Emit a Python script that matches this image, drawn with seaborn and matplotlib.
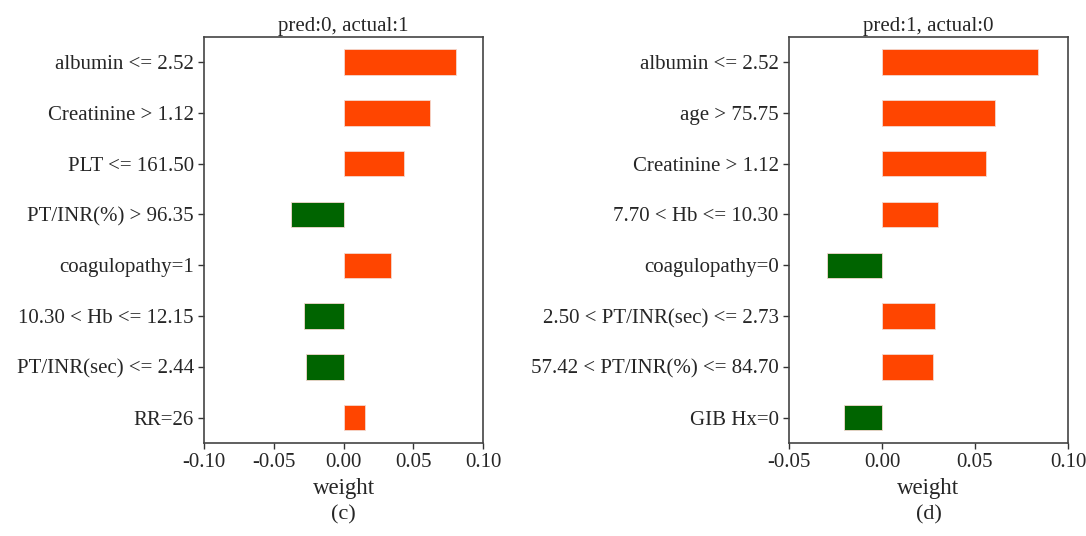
import matplotlib
matplotlib.use("Agg")
import matplotlib.pyplot as plt
import seaborn as sns
import pandas as pd

features_c = ["albumin <= 2.52", "Creatinine > 1.12", "PLT <= 161.50", "PT/INR(%) > 96.35",
              "coagulopathy=1", "10.30 < Hb <= 12.15", "PT/INR(sec) <= 2.44", "RR=26"]
weights_c = [0.0804, 0.0622, 0.0431, -0.0376, 0.0337, -0.0282, -0.0273, 0.0153]

features_d = ["albumin <= 2.52", "age > 75.75", "Creatinine > 1.12", "7.70 < Hb <= 10.30",
              "coagulopathy=0", "2.50 < PT/INR(sec) <= 2.73", "57.42 < PT/INR(%) <= 84.70", "GIB Hx=0"]
weights_d = [0.0838, 0.0605, 0.0559, 0.0302, -0.0295, 0.0286, 0.0272, -0.0203]

title_c = "pred:0, actual:1"
title_d = "pred:1, actual:0"
xticks_c = [-0.10, -0.05, 0.00, 0.05, 0.10]
xticks_d = [-0.05, 0.00, 0.05, 0.10]

POS = "#FF4500"
NEG = "#006400"

sns.set_style("ticks")
plt.rcParams['font.family'] = ['Liberation Serif', 'DejaVu Serif']
plt.rcParams['axes.unicode_minus'] = False

fig = plt.figure(figsize=(10.86, 5.36), dpi=100)
ax_c = fig.add_axes([0.188, 0.1735, 0.2567, 0.758])
ax_d = fig.add_axes([0.7265, 0.1735, 0.2569, 0.758])


def panel(ax, feats, weights, title, xticks, letter):
    df = pd.DataFrame({"feature": feats, "weight": weights})
    df["sign"] = ["pos" if w > 0 else "neg" for w in weights]
    sns.barplot(data=df, y="feature", x="weight", hue="sign",
                palette={"pos": POS, "neg": NEG}, width=0.5, orient="h",
                dodge=False, legend=False, ax=ax, saturation=1,
                edgecolor="#f4d8cf", linewidth=0.6)
    ax.set_xlim(xticks[0], xticks[-1])
    ax.set_xticks(xticks)
    ax.set_xticklabels([f"{t:.2f}" for t in xticks])
    ax.set_ylim(len(feats) - 0.5, -0.5)
    ax.set_title(title, fontsize=15, pad=4)
    ax.set_ylabel("")
    ax.set_xlabel("weight", fontsize=16.5, labelpad=4)
    ax.text(0.5, -0.178, "(" + letter + ")", transform=ax.transAxes,
            ha="center", va="center", fontsize=16)
    ax.tick_params(axis="both", labelsize=15, length=4, width=1, color="#333333")
    for s in ax.spines.values():
        s.set_visible(True)
        s.set_color("#444444")
        s.set_linewidth(1.2)


panel(ax_c, features_c, weights_c, title_c, xticks_c, "c")
panel(ax_d, features_d, weights_d, title_d, xticks_d, "d")

fig.savefig("out.png", dpi=100)
